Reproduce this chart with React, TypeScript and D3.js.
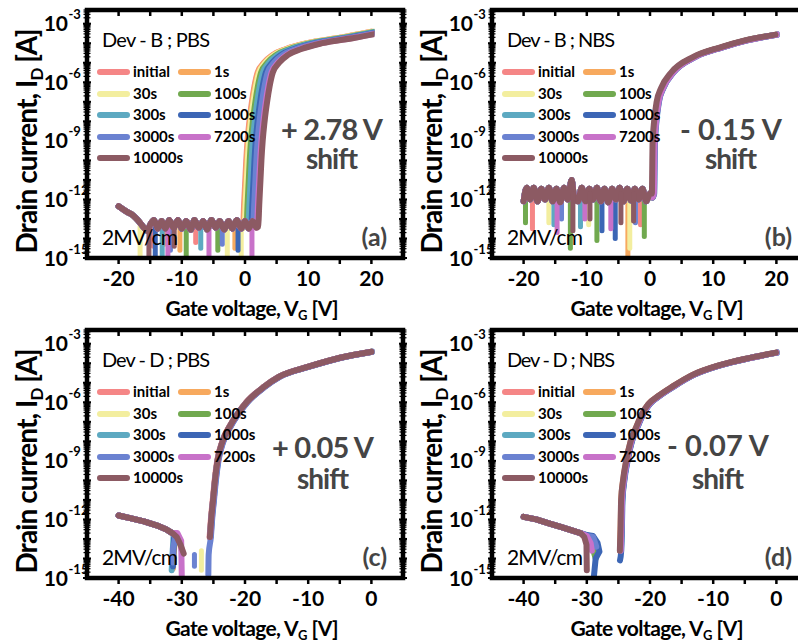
import * as d3 from "d3";

type Pt = [number, number]; // [gate voltage V, log10 drain current A]
type Spike = [number, number, number]; // [V, log10 top, log10 bottom]

const SERIES_LABELS = ["initial", "1s", "30s", "100s", "300s", "1000s", "3000s", "7200s", "10000s"];
const SERIES_COLORS = [
  "#f58686", "#f7a95e", "#f3ee9f", "#71a94f", "#5da9c1",
  "#3c66b5", "#6b82d1", "#c872c9", "#8c5a63",
];

const X_TICKS_B = [-20, -10, 0, 10, 20];
const X_TICKS_D = [-40, -30, -20, -10, 0];
const Y_TICK_EXPS = [-3, -6, -9, -12, -15];

// ---- (a) Dev-B, PBS ----
const floorA: Pt[] = [
  [-20, -12.35], [-19.3, -12.5], [-18.6, -12.65], [-18, -12.75], [-17.3, -12.95], [-16.6, -13.2],
  [-16, -13.45], [-15.5, -13.6], [-15, -13.3], [-14.4, -13.05], [-13.8, -13.5], [-13.2, -13.1],
  [-12.6, -13.5], [-12, -13.05], [-11.3, -13.45], [-10.6, -13.05], [-10, -13.5], [-9.3, -13.1],
  [-8.6, -13.55], [-8, -13.05], [-7.3, -13.45], [-6.6, -13.1], [-6, -13.55], [-5.3, -13.05],
  [-4.6, -13.45], [-4, -13.1], [-3.3, -13.55], [-2.6, -13.1], [-2, -13.5], [-1.3, -13.05],
  [-0.6, -13.5], [0, -13.1], [0.6, -13.5], [1.2, -13.1], [1.8, -13.45],
];
const onA: Pt[] = [
  [-0.3, -13.4], [-0.15, -12.3], [0.05, -11], [0.2, -10], [0.4, -9], [0.7, -8], [1.1, -7],
  [1.5, -6.2], [2.0, -5.5], [3.0, -5.0], [4.4, -4.6], [6.5, -4.3], [9.8, -4.0], [15, -3.72], [20, -3.41],
];
const shiftA = [0, 0.1, 0.25, 0.55, 0.85, 1.3, 1.6, 2.2, 2.4];
const spikesA: Spike[][] = [
  [[-14.5, -13.3, -14.4], [-7.8, -13.3, -14.2]],
  [[-10.3, -13.3, -14.6], [-1.6, -13.3, -14.5], [-12.8, -13.3, -14.3]],
  [[-16.6, -13.2, -15], [-2.8, -13.3, -15], [-0.6, -13.3, -15]],
  [[-9.3, -13.3, -15], [-4.3, -13.3, -14.6]],
  [[-13.1, -13.3, -15], [-7.0, -13.3, -14.5]],
  [[-14.2, -13.3, -14.9], [-1.1, -13.3, -14.6]],
  [[-11.8, -13.3, -14.6], [-3.6, -13.3, -14.3]],
  [[-12.2, -13.3, -15], [-5.7, -13.3, -15], [1.1, -13.3, -15]],
  [[-15.2, -13.5, -15], [-11.2, -13.3, -14.4]],
];

// ---- (b) Dev-B, NBS ----
const floorB: Pt[] = [
  [-20, -12.1], [-19.5, -11.4], [-19, -12.0], [-18.4, -11.4], [-17.8, -12.1], [-17.2, -11.45],
  [-16.6, -12.0], [-16, -11.4], [-15.4, -12.1], [-14.8, -11.45], [-14.2, -12.15], [-13.6, -11.4],
  [-13, -12.0], [-12.4, -11.0], [-12, -11.9], [-11.4, -12.1], [-10.8, -11.4], [-10.2, -12.1],
  [-9.6, -11.45], [-9, -12.0], [-8.4, -11.4], [-7.8, -12.1], [-7.2, -11.45], [-6.6, -12.15],
  [-6, -11.45], [-5.4, -12.0], [-4.8, -11.4], [-4.2, -12.1], [-3.6, -11.45], [-3, -12.05],
  [-2.4, -11.45], [-1.8, -12.0], [-1.2, -11.45], [-0.6, -12.1], [0, -11.7], [0.4, -11.9],
];
const onB: Pt[] = [
  [0.45, -11.7], [0.5, -10.5], [0.55, -9.2], [0.8, -8], [1.2, -7], [1.9, -6.3], [3.5, -5.5],
  [7, -4.7], [11.4, -4.2], [15, -3.87], [20, -3.56],
];
const shiftB = [0, 0.05, 0.1, 0.05, 0.1, 0.22, 0.18, 0.15, -0.15];
const spikesB: Spike[][] = [
  [[-18.6, -11.7, -13.5], [-1.5, -11.7, -13.3]],
  [[-3.5, -11.7, -15]],
  [[-9.7, -11.7, -13.3], [-3.2, -11.7, -14.5], [-16, -11.7, -13.2]],
  [[-19.7, -11.7, -13.2], [-12.6, -11.7, -14.5], [-8.4, -11.7, -14.1], [-0.9, -11.7, -13.9]],
  [[-15.2, -11.7, -13.3], [-11, -11.7, -13.4]],
  [[-5.5, -11.7, -14.0], [-7.6, -11.7, -13.6]],
  [[-14, -11.7, -13.0], [-2.3, -11.7, -13.2]],
  [[-14.7, -11.7, -13.7], [-6.2, -11.7, -13.5], [-10.3, -11.7, -13.0]],
  [[-12.2, -11.7, -13.6], [-9.5, -11.7, -13.0], [-4.6, -11.7, -13.2], [-2.6, -11.7, -13.1]],
];

// ---- (c) Dev-D, PBS ----
const floorC: Pt[] = [[-40, -11.8], [-38, -11.95], [-36, -12.1], [-34, -12.3], [-32.5, -12.5], [-31.5, -12.7]];
const tailsC: Pt[][] = [
  [[-30.8, -12.9], [-30.3, -13.2], [-30, -13.6]],
  [[-31.1, -12.85], [-31.4, -14.5]],
  [[-30.8, -12.9], [-30.2, -13.3]],
  [[-30.8, -12.85], [-30.2, -13.3]],
  [[-31.3, -12.8], [-31.6, -14.6]],
  [[-31.2, -12.8], [-31.4, -14.4]],
  [[-31, -12.9], [-31.4, -13.5], [-31.4, -14.2]],
  [[-30.7, -12.7], [-30.1, -13.1], [-30, -15]],
  [[-30.8, -12.9], [-30.2, -13.3], [-29.7, -13.75]],
];
const onC: Pt[] = [
  [-25.6, -12.9], [-25.4, -12.0], [-25.1, -11], [-24.8, -10], [-24.4, -9], [-23.6, -8], [-22.4, -7.2],
  [-21, -6.5], [-19.8, -6.0], [-17, -5.2], [-14.7, -4.7], [-10, -4.18], [-5, -3.72], [0, -3.41],
];
const headsC: Pt[][] = [[], [], [], [], [], [], [[-25.8, -14.85], [-25.75, -13.8]], [], []];
const shiftC = [0, 0.05, 0.1, 0.1, 0.05, 0.15, 0.2, 0.05, 0.05];
const spikesC: Spike[][] = [[], [], [[-26.9, -13.6, -14.6]], [], [], [], [[-28, -13.8, -14.4]], [], []];

// ---- (d) Dev-D, NBS ----
const floorD: Pt[] = [[-40, -11.87], [-38, -12.0], [-36, -12.2], [-34, -12.4], [-32, -12.6], [-31, -12.7]];
const tailsD: Pt[][] = [
  [[-30, -12.85], [-29.2, -12.95], [-28.8, -13.3]],
  [[-30, -12.85], [-29, -12.9], [-28.7, -13.5]],
  [[-30, -12.85], [-29, -13.0], [-28.8, -13.4]],
  [[-30, -12.85], [-29.3, -13.2], [-28.6, -14.0]],
  [[-30, -12.8], [-29, -12.9], [-28.6, -13.3]],
  [[-30, -12.8], [-29, -12.85], [-28.3, -13.2], [-28.0, -13.65], [-28.6, -14.0], [-28.9, -15]],
  [[-30, -12.85], [-29, -12.9], [-28.5, -13.4]],
  [[-30, -12.85], [-29.4, -13.2], [-29.2, -13.6]],
  [[-30.4, -12.9], [-30.05, -13.3], [-30, -14.6]],
];
const onD: Pt[] = [
  [-24.7, -13.6], [-24.6, -12.5], [-24.5, -11], [-24.2, -10], [-23.7, -9], [-23, -8], [-22.1, -7.26],
  [-21.2, -6.6], [-20.2, -6.1], [-18.5, -5.65], [-16.4, -5.2], [-13.2, -4.6], [-8.9, -4.1], [-4.5, -3.75], [0, -3.46],
];
const headsD: Pt[][] = [[], [], [], [], [], [[-24.75, -14.1]], [], [], []];
const shiftD = [0, -0.05, 0.05, 0.05, 0.1, 0.15, 0.1, 0.05, -0.07];
const spikesD: Spike[][] = [[], [], [], [], [], [], [], [], []];

const PANELS = [
  { letter: "(a)", device: "Dev - B ; PBS", shiftText: "+ 2.78 V", xDomain: [-25, 25], xTicks: X_TICKS_B, vMax: 20,
    floor: floorA, on: onA, shifts: shiftA, spikes: spikesA, tails: null, heads: null },
  { letter: "(b)", device: "Dev - B ; NBS", shiftText: "- 0.15 V", xDomain: [-25, 25], xTicks: X_TICKS_B, vMax: 20,
    floor: floorB, on: onB, shifts: shiftB, spikes: spikesB, tails: null, heads: null },
  { letter: "(c)", device: "Dev - D ; PBS", shiftText: "+ 0.05 V", xDomain: [-45, 5], xTicks: X_TICKS_D, vMax: 0,
    floor: floorC, on: onC, shifts: shiftC, spikes: spikesC, tails: tailsC, heads: headsC },
  { letter: "(d)", device: "Dev - D ; NBS", shiftText: "- 0.07 V", xDomain: [-45, 5], xTicks: X_TICKS_D, vMax: 0,
    floor: floorD, on: onD, shifts: shiftD, spikes: spikesD, tails: tailsD, heads: headsD },
];

// layout
const W = 798, H = 641;
const PW = 316, PH = 248;
const ORIGINS = [[87, 10], [492, 10], [87, 330], [492, 330]];
const SHIFT_POS = [[245, 130], [239, 130], [236, 128], [226, 126]];
const Y_TOP = Math.pow(10, -2.3);
const FONT = "Lato, 'Open Sans', sans-serif";
const GRAY = "#454545";

function Panel({ p, idx }: { p: any; idx: number }) {
  const [ox, oy] = ORIGINS[idx];
  const x = d3.scaleLinear().domain(p.xDomain).range([0, PW]);
  const y = d3.scaleLog().domain([1e-15, Y_TOP]).range([PH, 0]);
  const smooth = d3.line<Pt>().x((d) => x(d[0])).y((d) => y(Math.pow(10, d[1]))).curve(d3.curveMonotoneX);
  const straight = d3.line<Pt>().x((d) => x(d[0])).y((d) => y(Math.pow(10, d[1])));
  const clipId = `clip-${idx}`;

  // returns [points, smoothed?] segments for one series
  const segsFor = (i: number): [Pt[], boolean][] => {
    const s = p.shifts[i];
    const onPts: Pt[] = p.on.map((d: Pt) => [d[0] + s, d[1]] as Pt);
    if (!p.tails) {
      const cut = onPts[0][0];
      return [[p.floor.filter((d: Pt) => d[0] < cut).concat(onPts), true]];
    }
    return [
      [p.floor.concat(p.tails[i]), false],
      [p.heads[i].concat(onPts), true],
    ];
  };

  const majorX = d3.range(p.xDomain[0] + 5, p.xDomain[1], 5);
  const minorY: number[] = [];
  for (let e = -15; e <= -3; e++) {
    for (let m = 2; m <= 9; m++) {
      const v = m * Math.pow(10, e);
      if (v < Y_TOP) minorY.push(v);
    }
  }
  const majorY = d3.range(-15, -2).map((e) => Math.pow(10, e));

  const legendRows = [62, 84, 105, 127, 148];

  return (
    <g transform={`translate(${ox},${oy})`}>
      <defs>
        <clipPath id={clipId}>
          <rect x={0} y={0} width={x(p.vMax) + 3} height={PH} />
        </clipPath>
      </defs>

      {/* curves */}
      <g clipPath={`url(#${clipId})`} fill="none" strokeLinecap="round" strokeLinejoin="round" strokeWidth={6}>
        {SERIES_LABELS.map((_, i) => (
          <g key={i} stroke={SERIES_COLORS[i]}>
            {segsFor(i).map(([seg, sm], k) => (
              <path key={k} d={(sm ? smooth(seg) : straight(seg)) || ""} />
            ))}
            {p.spikes[i].map((sp: Spike, k: number) => (
              <path key={`s${k}`} d={straight([[sp[0], sp[1]], [sp[0], sp[2]]]) || ""} strokeWidth={5} />
            ))}
          </g>
        ))}
      </g>

      {/* frame + ticks */}
      <g stroke="#000">
        {majorX.map((v: number) => (
          <g key={v}>
            <line x1={x(v)} x2={x(v)} y1={PH} y2={PH + 6} strokeWidth={2.5} />
            <line x1={x(v)} x2={x(v)} y1={0} y2={6} strokeWidth={2.5} />
          </g>
        ))}
        {majorY.map((v, k) => (
          <g key={`my${k}`}>
            <line x1={-4} x2={4} y1={y(v)} y2={y(v)} strokeWidth={2} />
            <line x1={PW - 4} x2={PW + 4} y1={y(v)} y2={y(v)} strokeWidth={2} />
          </g>
        ))}
        {minorY.map((v, k) => (
          <g key={`mn${k}`}>
            <line x1={-3.5} x2={3.5} y1={y(v)} y2={y(v)} strokeWidth={1.2} />
            <line x1={PW - 3.5} x2={PW + 3.5} y1={y(v)} y2={y(v)} strokeWidth={1.2} />
          </g>
        ))}
        <rect x={0} y={0} width={PW} height={PH} fill="none" strokeWidth={4.5} />
      </g>

      {/* tick labels */}
      <g fontFamily={FONT} fontWeight={700} fill="#000">
        {p.xTicks.map((v: number) => (
          <text key={v} x={x(v)} y={PH + 28} textAnchor="middle" fontSize={21}>
            {v}
          </text>
        ))}
        {Y_TICK_EXPS.map((e) => {
          const yy = y(Math.pow(10, e));
          return (
            <g key={e}>
              <text x={-19} y={yy + 7.5} textAnchor="end" fontSize={21}>10</text>
              <text x={-18.5} y={yy - 4.5} fontSize={13}>{e}</text>
            </g>
          );
        })}
      </g>

      {/* axis titles */}
      <text
        transform={`translate(${-50},${131}) rotate(-90)`}
        textAnchor="middle"
        fontFamily={FONT}
        fontWeight={700}
        fontSize={28}
        textLength={225}
      >
        Drain current, I<tspan fontSize={17} dy={6}>D</tspan>
        <tspan dy={-6}> [A]</tspan>
      </text>
      <text
        x={165}
        y={306}
        textAnchor="middle"
        fontFamily={FONT}
        fontWeight={700}
        fontSize={21}
        textLength={173}
      >
        Gate voltage, V<tspan fontSize={13} dy={4}>G</tspan>
        <tspan dy={-4}> [V]</tspan>
      </text>

      {/* in-plot annotations */}
      <text x={15} y={37} fontFamily={FONT} fontSize={20} textLength={108}>{p.device}</text>
      <text x={15} y={235} fontFamily={FONT} fontSize={21} textLength={76}>2MV/cm</text>
      <text x={300} y={236} textAnchor="end" fontFamily={FONT} fontWeight={700} fontSize={25} fill={GRAY}>
        {p.letter}
      </text>
      <text x={SHIFT_POS[idx][0]} y={SHIFT_POS[idx][1]} textAnchor="middle" fontFamily={FONT}
        fontWeight={700} fontSize={29} fill={GRAY} textLength={102}>
        {p.shiftText}
      </text>
      <text x={SHIFT_POS[idx][0]} y={159} textAnchor="middle" fontFamily={FONT}
        fontWeight={700} fontSize={28} fill={GRAY} textLength={52}>
        shift
      </text>

      {/* legend */}
      <g fontFamily={FONT} fontWeight={700} fontSize={15}>
        {SERIES_LABELS.map((lab, i) => {
          const col = i % 2;
          const row = Math.floor(i / 2);
          const yy = legendRows[row];
          const x1 = col === 0 ? 13 : 94;
          return (
            <g key={lab}>
              <line x1={x1} x2={x1 + 27} y1={yy} y2={yy} stroke={SERIES_COLORS[i]} strokeWidth={6} strokeLinecap="round" />
              <text x={x1 + 33} y={yy + 5}>{lab}</text>
            </g>
          );
        })}
      </g>
    </g>
  );
}

export default function App() {
  return (
    <svg
      width={W}
      height={H}
      viewBox={`0 0 ${W} ${H}`}
      style={{ position: "absolute", left: 0, top: 0, background: "#fff" }}
    >
      <rect width={W} height={H} fill="#fff" />
      {PANELS.map((p, i) => (
        <Panel key={i} p={p} idx={i} />
      ))}
    </svg>
  );
}
